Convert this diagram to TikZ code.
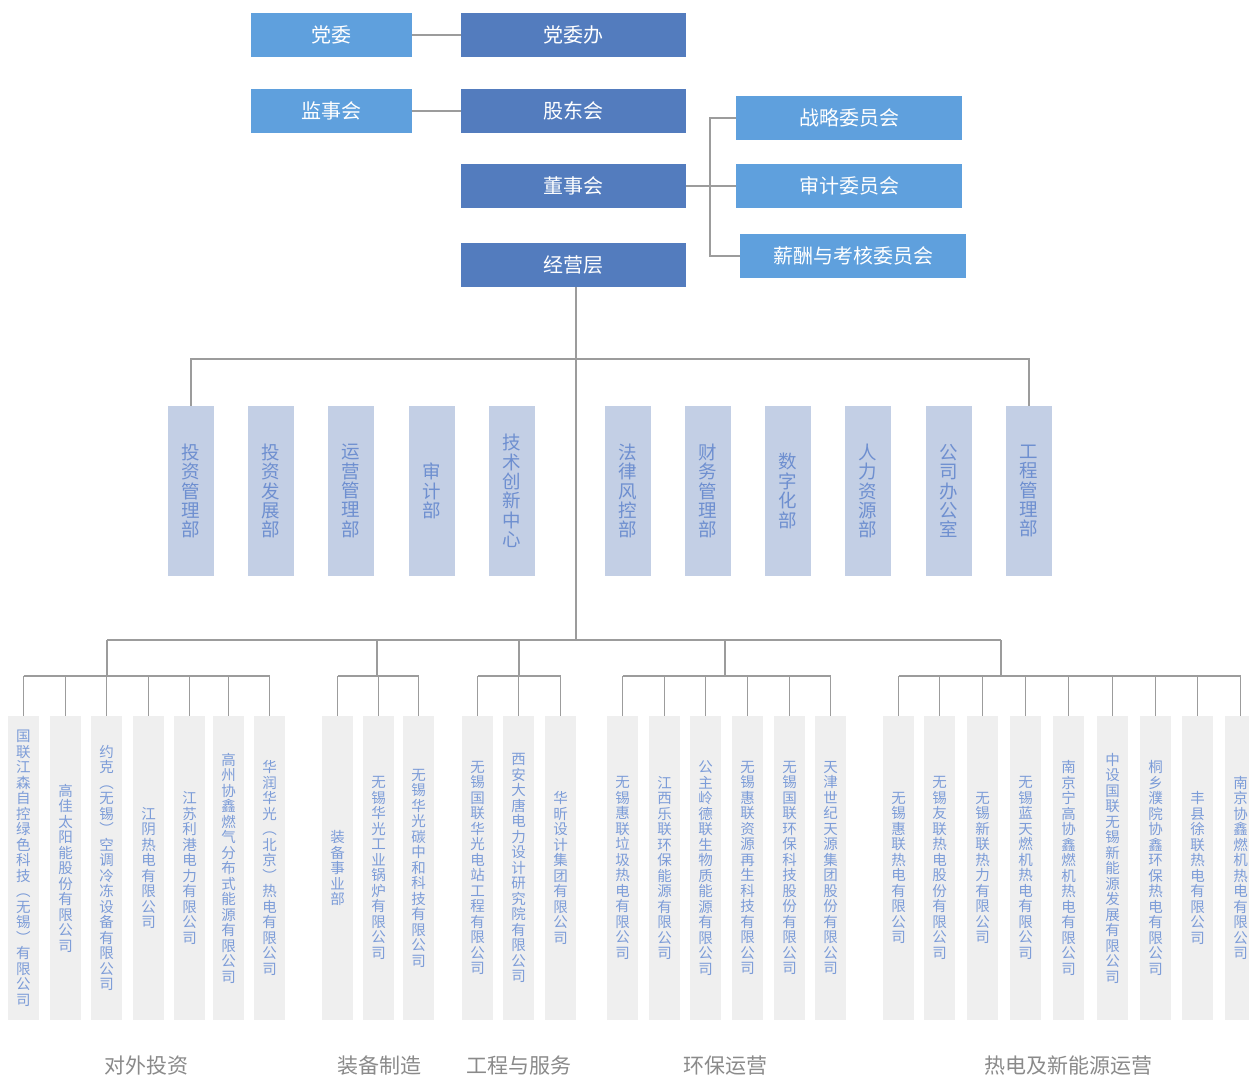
\documentclass[tikz,border=0pt]{standalone}
\usepackage{fontspec}
\setmainfont{Noto Sans CJK SC}
\usetikzlibrary{calc}
\definecolor{partyblue}{HTML}{5FA0DD}
\definecolor{boardblue}{HTML}{537CBE}
\definecolor{deptfill}{HTML}{C3CFE5}
\definecolor{depttext}{HTML}{6E8FD0}
\definecolor{firmfill}{HTML}{EFEFEF}
\definecolor{firmtext}{HTML}{7C9CD8}
\definecolor{linkgray}{HTML}{9C9C9C}
\definecolor{labelgray}{HTML}{8A8A8A}
\tikzstyle{topbox}=[minimum height=44pt,inner sep=0pt,text=white,font=\fontsize{20}{24}\selectfont]
\tikzstyle{partybox}=[topbox,fill=partyblue,minimum width=161pt]
\tikzstyle{boardbox}=[topbox,fill=boardblue,minimum width=225pt]
\tikzstyle{deptbox}=[fill=deptfill,text=depttext,minimum width=46pt,minimum height=170pt,inner sep=0pt,align=center,font=\fontsize{18.5}{19.4}\selectfont]
\tikzstyle{firmbox}=[fill=firmfill,text=firmtext,minimum width=31pt,minimum height=304pt,inner sep=0pt,align=center,font=\fontsize{14.5}{15.5}\selectfont]
\tikzstyle{link}=[draw=linkgray,line width=1.5pt]
\tikzstyle{grouplabel}=[text=labelgray,font=\fontsize{21}{24}\selectfont]
\newcommand{\vstackend}{}
\newcommand{\vstack}[1]{\vstackfirst#1\vstackend} % one character per line
\def\vstackfirst#1{#1\vstackrest}
\def\vstackrest#1{\ifx#1\vstackend\else\\#1\expandafter\vstackrest\fi}
\newcommand{\dept}[3]{\node[deptbox] (#1) at (#2,491) {\vstack{#3}};}
\newcommand{\firm}[3]{\node[firmbox] (#1) at (#2,868) {\vstack{#3}};}
\newcommand{\groupline}[4]{% group coordinate, prefix, count
  \draw[link] (#1 |- mainbus) -- (#1);
  \draw[link] (#21.north |- #1) -- (#2#3.north |- #1);
  \foreach \i in {1,...,#3} \draw[link] (#2\i.north |- #1) -- (#2\i.north);
  \node[grouplabel] (#2lab) at (#4,1066) {\groupname};
}
\begin{document}
\begin{tikzpicture}[x=1pt,y=-1pt]
\useasboundingbox (0,0) rectangle (1249,1079);
% top management
\node[partybox] (dw) at (331.5,35) {党委};
\node[boardbox] (dwb) at (573.5,35) {党委办};
\node[partybox] (jsh) at (331.5,111) {监事会};
\node[boardbox] (gdh) at (573.5,111) {股东会};
\node[boardbox] (dsh) at (573.5,186) {董事会};
\node[boardbox] (jyc) at (573.5,265) {经营层};
\node[partybox,minimum width=226pt] (zl) at (849,118) {战略委员会};
\node[partybox,minimum width=226pt] (sj) at (849,186) {审计委员会};
\node[partybox,minimum width=226pt] (xc) at (853,256) {薪酬与考核委员会};
\coordinate (bk) at (710,186);
\draw[link] (dw.east) -- (dwb.west);
\draw[link] (jsh.east) -- (gdh.west);
\draw[link] (dsh.east) -- (sj.west);
\draw[link] (zl.west) -| (bk) |- (xc.west);
% departments
\dept{p1}{191}{投资管理部}
\dept{p2}{271}{投资发展部}
\dept{p3}{351}{运营管理部}
\dept{p4}{432}{审计部}
\dept{p5}{512}{技术创新中心}
\dept{p6}{628}{法律风控部}
\dept{p7}{708}{财务管理部}
\dept{p8}{788}{数字化部}
\dept{p9}{868}{人力资源部}
\dept{p10}{949}{公司办公室}
\dept{p11}{1029}{工程管理部}
\coordinate (db) at (576,359);
\coordinate (mainbus) at (576,640);
\draw[link] (jyc.south -| mainbus) -- (mainbus);
\draw[link] (p1.north) |- (db) -| (p11.north);
% companies
\firm{a1}{23.5}{国联江森自控绿色科技︵无锡︶有限公司}
\firm{a2}{65.5}{高佳太阳能股份有限公司}
\firm{a3}{106.5}{约克︵无锡︶空调冷冻设备有限公司}
\firm{a4}{148.5}{江阴热电有限公司}
\firm{a5}{189.5}{江苏利港电力有限公司}
\firm{a6}{228.5}{高州协鑫燃气分布式能源有限公司}
\firm{a7}{269.5}{华润华光︵北京︶热电有限公司}
\firm{b1}{337.5}{装备事业部}
\firm{b2}{378.5}{无锡华光工业锅炉有限公司}
\firm{b3}{418.5}{无锡华光碳中和科技有限公司}
\firm{c1}{477.5}{无锡国联华光电站工程有限公司}
\firm{c2}{518.5}{西安大唐电力设计研究院有限公司}
\firm{c3}{560.5}{华昕设计集团有限公司}
\firm{d1}{622.5}{无锡惠联垃圾热电有限公司}
\firm{d2}{664.5}{江西乐联环保能源有限公司}
\firm{d3}{705.5}{公主岭德联生物质能源有限公司}
\firm{d4}{747.5}{无锡惠联资源再生科技有限公司}
\firm{d5}{789.5}{无锡国联环保科技股份有限公司}
\firm{d6}{830.5}{天津世纪天源集团股份有限公司}
\firm{e1}{898.5}{无锡惠联热电有限公司}
\firm{e2}{939.5}{无锡友联热电股份有限公司}
\firm{e3}{982.5}{无锡新联热力有限公司}
\firm{e4}{1025.5}{无锡蓝天燃机热电有限公司}
\firm{e5}{1068.5}{南京宁高协鑫燃机热电有限公司}
\firm{e6}{1112.5}{中设国联无锡新能源发展有限公司}
\firm{e7}{1155.5}{桐乡濮院协鑫环保热电有限公司}
\firm{e8}{1197.5}{丰县徐联热电有限公司}
\firm{e9}{1240.5}{南京协鑫燃机热电有限公司}
\coordinate (ga) at (107,676);
\coordinate (gb) at (377,676);
\coordinate (gc) at (519,676);
\coordinate (gd) at (725,676);
\coordinate (ge) at (1001,676);
\draw[link] (ga |- mainbus) -- (ge |- mainbus);
\def\groupname{对外投资}\groupline{ga}{a}{7}{146}
\def\groupname{装备制造}\groupline{gb}{b}{3}{379}
\def\groupname{工程与服务}\groupline{gc}{c}{3}{519}
\def\groupname{环保运营}\groupline{gd}{d}{6}{725}
\def\groupname{热电及新能源运营}\groupline{ge}{e}{9}{1068}
\end{tikzpicture}
\end{document}
